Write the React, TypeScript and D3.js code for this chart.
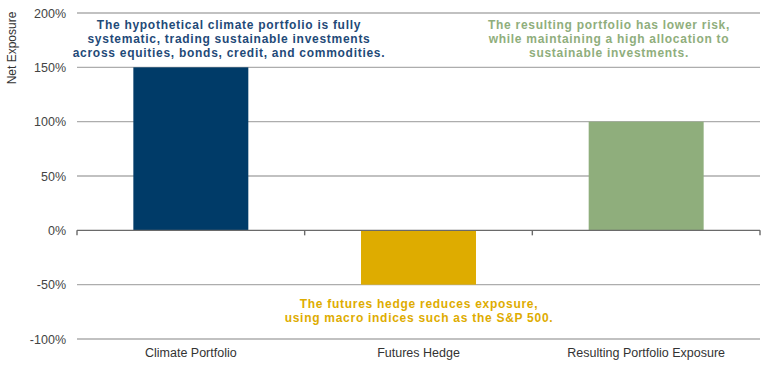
import * as d3 from "d3";

const categories = ["Climate Portfolio", "Futures Hedge", "Resulting Portfolio Exposure"];
const values = [150, -50, 100];
const barColors = ["#003B68", "#DEAC00", "#8FAE7C"];
const yTicks = [-100, -50, 0, 50, 100, 150, 200];

const notes = [
  {
    lines: [
      "The hypothetical climate portfolio is fully",
      "systematic, trading sustainable investments",
      "across equities, bonds, credit, and commodities.",
    ],
    color: "#1F4A78",
    x: 229,
    y: 29,
  },
  {
    lines: [
      "The resulting portfolio has lower risk,",
      "while maintaining a high allocation to",
      "sustainable investments.",
    ],
    color: "#8FAE7C",
    x: 609,
    y: 29,
  },
  {
    lines: ["The futures hedge reduces exposure,", "using macro indices such as the S&P 500."],
    color: "#DEAC00",
    x: 419,
    y: 308,
  },
];

export default function App() {
  const width = 770;
  const height = 369;
  const margin = { left: 77, right: 10, top: 13, bottom: 30 };
  const x = d3
    .scaleBand<string>()
    .domain(categories)
    .range([margin.left, width - margin.right])
    .paddingInner(0.495)
    .paddingOuter(0.2475);
  const y = d3.scaleLinear().domain([-100, 200]).range([339, 13]);
  const font = "Liberation Sans, Arial, sans-serif";
  const edges = [margin.left, ...categories.map((c) => x(c)! + x.bandwidth() / 2 + x.step() / 2)];

  return (
    <svg
      width={width}
      height={height}
      style={{ position: "absolute", left: 0, top: 0, background: "#fff" }}
      fontFamily={font}
    >
      {yTicks.map((t) => (
        <g key={t}>
          {t !== 0 && (
            <line
              x1={margin.left}
              x2={width - margin.right}
              y1={y(t)}
              y2={y(t)}
              stroke="#ADADAD"
              strokeWidth={1.3}
            />
          )}
          <text x={66} y={y(t) + 4.5} textAnchor="end" fontSize={12.5} fill="#444">
            {t}%
          </text>
        </g>
      ))}
      <text
        transform={`translate(16, 48) rotate(-90)`}
        textAnchor="middle"
        fontSize={12}
        fill="#333"
      >
        Net Exposure
      </text>
      {categories.map((c, i) => {
        const v = values[i];
        return (
          <rect
            key={c}
            x={x(c)}
            width={x.bandwidth()}
            y={y(Math.max(0, v))}
            height={Math.abs(y(v) - y(0))}
            fill={barColors[i]}
          />
        );
      })}
      <line x1={margin.left} x2={width - margin.right} y1={y(0)} y2={y(0)} stroke="#6A6A6A" strokeWidth={1.4} />
      {edges.map((e, i) => (
        <line key={i} x1={e} x2={e} y1={y(0)} y2={y(0) + 5} stroke="#6A6A6A" strokeWidth={1.4} />
      ))}
      {categories.map((c) => (
        <text
          key={c}
          x={x(c)! + x.bandwidth() / 2}
          y={357}
          textAnchor="middle"
          fontSize={12.5}
          fill="#333"
        >
          {c}
        </text>
      ))}
      {notes.map((n, i) => (
        <text
          key={i}
          x={n.x}
          y={n.y}
          textAnchor="middle"
          fontSize={12}
          fontWeight="bold"
          letterSpacing={0.72}
          fill={n.color}
        >
          {n.lines.map((l, j) => (
            <tspan key={j} x={n.x} y={n.y + j * 14}>
              {l}
            </tspan>
          ))}
        </text>
      ))}
    </svg>
  );
}
